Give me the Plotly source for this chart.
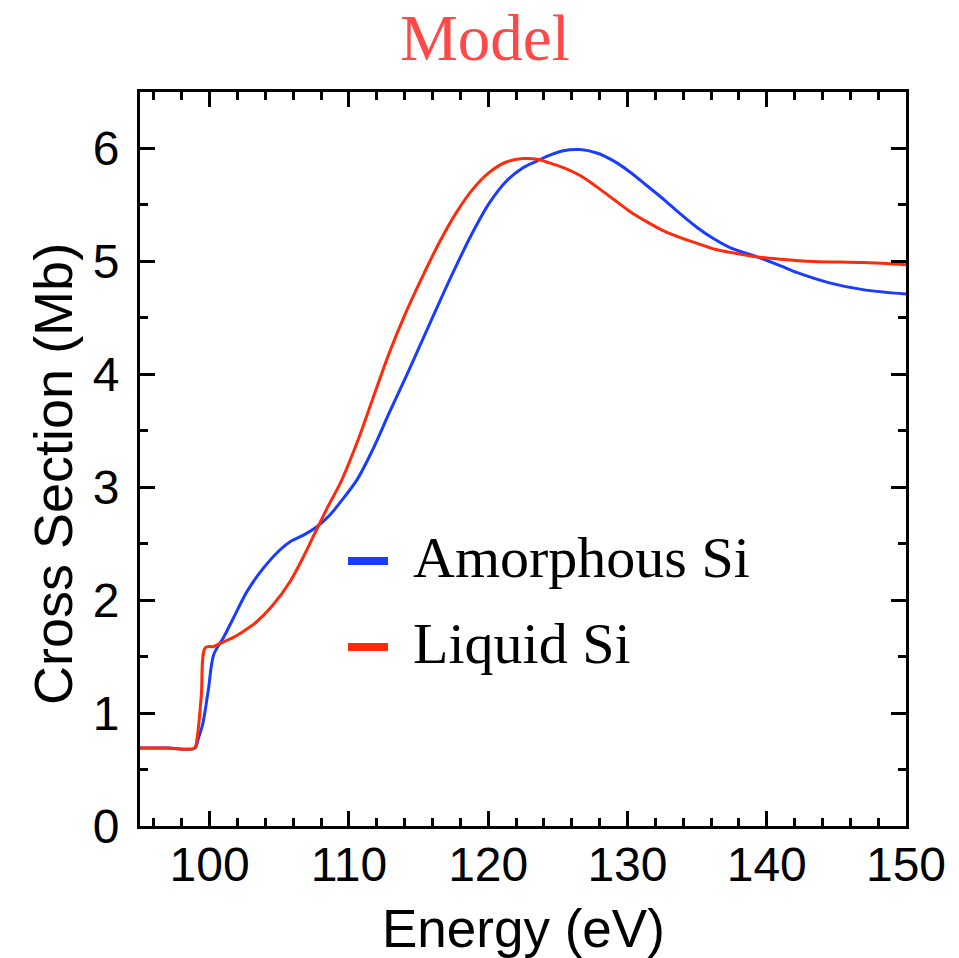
import plotly.graph_objects as go

# ---- data ----
energy_amorphous = [95.0, 97.0, 98.5, 98.95, 99.2, 99.5, 99.9, 100.3, 101.0, 101.7, 102.7, 103.9, 105.0,
                    105.8, 106.8, 107.7, 108.6, 109.4, 110.6, 111.7, 112.9, 114.1, 115.3, 116.5,
                    117.7, 118.9, 120.1, 121.3, 122.5, 123.7, 124.2, 125.4, 126.6, 127.8, 129.0,
                    130.2, 131.4, 132.6, 133.8, 135.0, 136.2, 137.4, 139.3, 141.0, 142.2, 144.5,
                    146.9, 150.0]
xs_amorphous = [0.69, 0.69, 0.68, 0.69, 0.78, 0.90, 1.20, 1.52, 1.67, 1.84, 2.08, 2.29, 2.44,
                2.52, 2.58, 2.65, 2.75, 2.87, 3.07, 3.33, 3.66, 3.98, 4.31, 4.64,
                4.96, 5.26, 5.52, 5.71, 5.83, 5.90, 5.93, 5.98, 5.99, 5.96, 5.89,
                5.79, 5.67, 5.55, 5.42, 5.30, 5.20, 5.12, 5.04, 4.96, 4.90, 4.81,
                4.75, 4.71]

energy_liquid = [95.0, 97.0, 98.9, 99.1, 99.4, 99.7, 100.3, 100.8, 101.7, 102.5, 103.3, 104.5,
                 105.8, 106.8, 107.7, 108.5, 109.4, 110.6, 111.7, 112.9, 114.1, 115.3, 116.5,
                 117.7, 118.9, 120.1, 121.3, 122.5, 123.7, 124.2, 125.4, 126.6, 127.8, 129.0,
                 130.2, 131.4, 132.6, 133.8, 135.0, 136.2, 137.4, 139.3, 141.0, 143.4, 147.0,
                 150.0]
xs_liquid = [0.69, 0.69, 0.69, 0.78, 1.15, 1.58, 1.59, 1.62, 1.67, 1.73, 1.80, 1.95,
             2.17, 2.40, 2.63, 2.83, 3.04, 3.40, 3.78, 4.19, 4.55, 4.87, 5.17,
             5.43, 5.64, 5.79, 5.88, 5.91, 5.90, 5.88, 5.83, 5.76, 5.66, 5.55,
             5.44, 5.35, 5.27, 5.21, 5.16, 5.11, 5.08, 5.04, 5.02, 5.00, 4.99,
             4.97]

series_names = ["Amorphous Si", "Liquid Si"]
series_colors = ["#1a3cff", "#ff2a0a"]

x_ticks = [100, 110, 120, 130, 140, 150]
y_ticks = [0, 1, 2, 3, 4, 5, 6]

W, H = 959, 958
L, R, T, B = 140, 53, 92, 132
pw, ph = W - L - R, H - T - B

def px_x(px):
    return (px - L) / pw

def px_y(py):
    return (H - B - py) / ph

fig = go.Figure()
for xs, ys, name, col in [(energy_amorphous, xs_amorphous, series_names[0], series_colors[0]),
                          (energy_liquid, xs_liquid, series_names[1], series_colors[1])]:
    fig.add_trace(go.Scatter(x=xs, y=ys, mode="lines", name=name,
                             line=dict(color=col, width=3, shape="spline", smoothing=0.9),
                             showlegend=False))

axis_common = dict(
    showgrid=False, zeroline=False, showline=True, linecolor="black", linewidth=3,
    mirror="ticks", ticks="inside", ticklen=15, tickwidth=3, tickcolor="black",
    tickfont=dict(family="Liberation Sans, Arial, sans-serif", size=48, color="black"),
)
fig.update_xaxes(range=[95, 150], tickvals=x_ticks, ticklabelstandoff=-6,
                 minor=dict(dtick=2, tick0=0, ticks="inside", ticklen=8, tickwidth=2.5, tickcolor="black"),
                 **axis_common)
fig.update_yaxes(range=[0, 6.5], tickvals=y_ticks, ticklabelstandoff=8,
                 minor=dict(dtick=0.5, tick0=0, ticks="inside", ticklen=8, tickwidth=2.5, tickcolor="black"),
                 **axis_common)

annotations = [
    dict(text="Model", x=px_x(485), y=px_y(38), xref="paper", yref="paper",
         xanchor="center", yanchor="middle", showarrow=False,
         font=dict(family="Liberation Serif, Times New Roman, serif", size=65, color="#ff4848")),
    dict(text="Energy (eV)", x=px_x(523), y=px_y(928), xref="paper", yref="paper",
         xanchor="center", yanchor="middle", showarrow=False,
         font=dict(family="Liberation Sans, Arial, sans-serif", size=53, color="black")),
    dict(text="Cross Section (Mb)", x=px_x(53), y=px_y(474), xref="paper", yref="paper",
         xanchor="center", yanchor="middle", showarrow=False, textangle=-90,
         font=dict(family="Liberation Sans, Arial, sans-serif", size=54, color="black")),
]
shapes = []
for name, col, py in [(series_names[0], series_colors[0], 561), (series_names[1], series_colors[1], 647)]:
    shapes.append(dict(type="line", xref="paper", yref="paper",
                       x0=px_x(348), x1=px_x(388), y0=px_y(py), y1=px_y(py),
                       line=dict(color=col, width=8)))
    annotations.append(dict(text=name, x=px_x(411), y=px_y(py - 4), xref="paper", yref="paper",
                            xanchor="left", yanchor="middle", showarrow=False,
                            font=dict(family="Liberation Serif, Times New Roman, serif", size=58, color="black")))

fig.update_layout(
    width=W, height=H, margin=dict(l=L, r=R, t=T, b=B),
    paper_bgcolor="white", plot_bgcolor="white",
    annotations=annotations, shapes=shapes, showlegend=False,
)

fig.write_html("out.html")
